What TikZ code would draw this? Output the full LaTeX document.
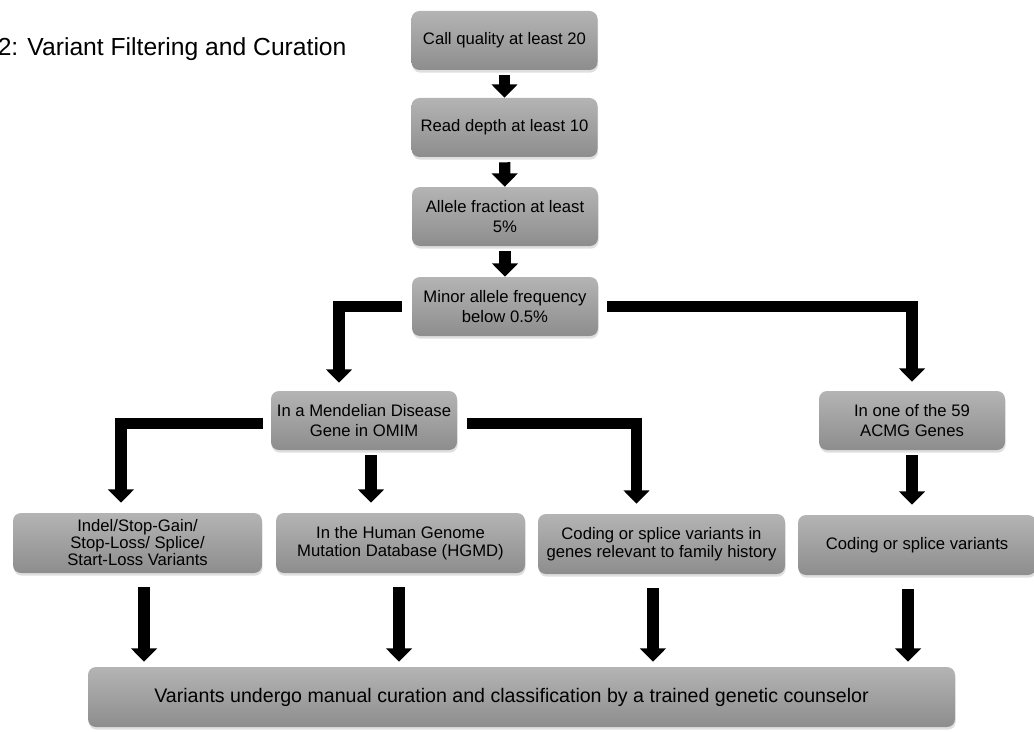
\documentclass[tikz,border=0pt]{standalone}
\usepackage{fontspec}
\setmainfont{Liberation Sans}
\usetikzlibrary{arrows.meta,positioning,shadows,calc}

\definecolor{boxtop}{RGB}{180,180,180}
\definecolor{boxbot}{RGB}{141,141,141}

\begin{document}
\begin{tikzpicture}[%
    x=0.75pt,
    y=-0.75pt,
    base/.style={align=center, rounded corners=6pt, top color=boxtop, bottom color=boxbot, inner sep=2pt,
        drop shadow={opacity=0.25, shadow xshift=0.5pt, shadow yshift=-2pt}, font={\fontsize{12.5}{15}\selectfont}},
    filt/.style={base, minimum width=139.5pt, minimum height=44.25pt},
    cat/.style={base, minimum width=186.75pt, minimum height=45pt},
    to/.style={-{Triangle[width=19pt, length=10pt]}, line width=8.5pt}
    ]

    \useasboundingbox (0,0) rectangle (1034,731);

    \node at (-2.5,56) [anchor=base west, inner sep=0pt, font={\fontsize{18.5}{22}\selectfont}] (title) {2: Variant Filtering and Curation};

    % filter chain
    \node at (504.5,40.5) [filt] (cq) {Call quality at least 20};
    \node at (504.5,127.5) [filt] (rd) {Read depth at least 10};
    \node at (505,216.5) [filt] (af) {Allele fraction at least\\5\%};
    \node at (505,306.5) [filt] (maf) {Minor allele frequency\\below 0.5\%};
        \draw[to, shorten <=3.75pt] (cq) -- (rd);
        \draw[to, shorten <=3.75pt] (rd) -- (af);
        \draw[to, shorten <=3.75pt] (af) -- (maf);

    \node at (364,420.5) [filt] (omim) {In a Mendelian Disease\\Gene in OMIM};
    \node at (912,420.5) [filt] (acmg) {In one of the 59\\ACMG Genes};
        \draw[to, shorten <=7.5pt, shorten >=6pt] (maf.west) -| ([xshift=-18.75pt]omim.north);
        \draw[to, shorten <=6.75pt, shorten >=6.75pt] (maf.east) -| (acmg.north);

    \node at (137.5,543) [cat, font={\fontsize{12.5}{12.75}\selectfont}] (indel) {Indel/Stop-Gain/\\Stop-Loss/ Splice/\\Start-Loss Variants};
    \node at (400.5,543) [cat, font={\fontsize{12.5}{13.5}\selectfont}] (hgmd) {In the Human Genome\\Mutation Database (HGMD)};
    \node at (661.5,544) [cat, minimum width=185.25pt, font={\fontsize{12.5}{13.5}\selectfont}] (famhist) {Coding or splice variants in\\genes relevant to family history};
    \node at (917,545) [cat, minimum width=178.5pt] (coding) {Coding or splice variants};
        \draw[to, shorten <=6pt, shorten >=7.5pt] ([yshift=-2.25pt]omim.west) -| ([xshift=-12.4pt]indel.north);
        \draw[to, shorten <=7.5pt, shorten >=7.5pt] ([yshift=-2.25pt]omim.east) -| ([xshift=-18.75pt]famhist.north);
        \draw[to, shorten <=3.75pt, shorten >=7.5pt] ([xshift=5.25pt]omim.south) -- ([xshift=5.25pt]omim.south |- hgmd.north);
        \draw[to, shorten <=3.75pt, shorten >=7.5pt] (acmg.south) -- (acmg.south |- coding.north);

    \node at (521.5,697) [base, minimum width=650.25pt, minimum height=45pt, font={\fontsize{14.7}{17}\selectfont}] (final) {Variants undergo manual curation and classification by a trained genetic counselor\hspace*{15pt}};
        \foreach \b/\dx in {indel/4.9pt, hgmd/-1.1pt, famhist/-6.4pt, coding/-6.75pt}
            \draw[to, shorten <=10.5pt, shorten >=3.75pt] ([xshift=\dx]\b.south) -- ([xshift=\dx]\b.south |- final.north);

\end{tikzpicture}
\end{document}
